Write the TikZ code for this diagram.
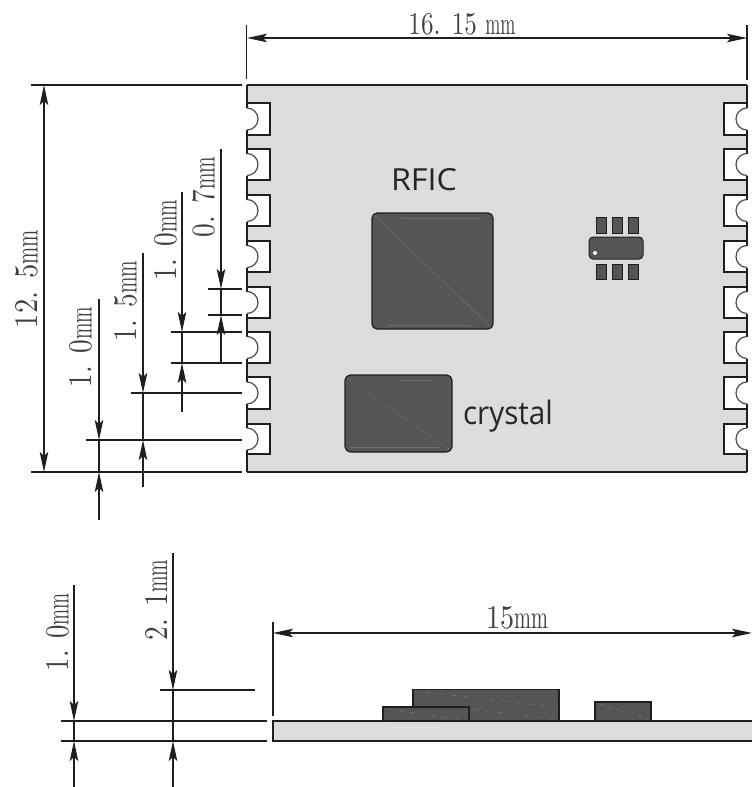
\documentclass[tikz,border=0pt]{standalone}
\usepackage{graphicx}
\usepackage{fontspec}
\newfontfamily\labelfont{Open Sans}
\usetikzlibrary{arrows.meta}
\definecolor{boardgrey}{HTML}{DCDCDC}
\definecolor{streak}{HTML}{E2E2E2}
\definecolor{chipgrey}{HTML}{555555}
\definecolor{chipline}{HTML}{6E6E6E}
\definecolor{inkline}{HTML}{1E1E1E}
\newcommand{\mmunit}{\scalebox{.72}[1]{mm}}
\newcommand{\sized}[3]{\resizebox{#1pt}{#2pt}{#3}}
\tikzset{
  dimline/.style={draw=inkline,line width=1.1pt},
  tip/.style={dimline,-{Stealth[length=20pt,width=8.5pt,inset=4pt]}},
  outline/.style={draw=inkline,line width=1.3pt},
  chip/.style={draw=inkline,line width=1.2pt,fill=chipgrey},
  vlabel/.style={rotate=90,inner sep=0pt,text=black!75},
  hlabel/.style={inner sep=0pt,text=black!75},
  boardlabel/.style={inner sep=0pt,font=\labelfont,text=black!85},
}
\begin{document}
\begin{tikzpicture}[x=1pt,y=-1pt]
\useasboundingbox (0,0) rectangle (752,787);
% ---- top view board
\fill[boardgrey] (247,85) rectangle (747,472);
\foreach \ya/\xa/\xb in {102/300/380,118/500/640,126/270/340,140/480/590,160/600/690,176/280/350,205/510/570,232/650/710,268/275/340,296/520/580,346/560/660,362/280/335,396/600/690,430/480/610,458/300/480}
  \draw[streak,line width=.8pt] (\xa,\ya) -- (\xb,\ya);
\draw[outline] (247,85) -- (747,85);
\draw[outline] (247,472) -- (747,472);
\draw[outline] (247,85) -- (247,472);
\draw[outline] (747,85) -- (747,472);
\foreach \t/\b in {103/135,149/180,195/226,241/272,287/318,332/363,377/409,424/454}{
  \pgfmathsetmacro{\m}{(\t+\b)/2}
  \fill[white] (245,\t) rectangle (270,\b);
  \fill[white] (724,\t) rectangle (749,\b);
  \draw[outline] (247,\m+11) -- (247,\b) -- (270,\b) -- (270,\t) -- (247,\t) -- (247,\m-11);
  \draw[draw=black!70,line width=1.2pt] (247,\m+11) arc[start angle=-90,end angle=90,radius=11pt];
  \draw[outline] (747,\m+11) -- (747,\b) -- (724,\b) -- (724,\t) -- (747,\t) -- (747,\m-11);
  \draw[draw=black!70,line width=1.2pt] (747,\m+11) arc[start angle=270,end angle=90,radius=11pt];
}
% chips
\draw[chip,rounded corners=5pt] (372,213) rectangle (493,329);
\draw[chipline,line width=.5pt] (374,215) -- (491,327);
\draw[chipline,line width=.8pt] (402,218) -- (480,218) (388,325) -- (470,325);
\draw[chip,rounded corners=6pt] (345,375) rectangle (452,452);
\draw[chipline,line width=.5pt,dash pattern=on 2pt off 1pt] (347,378) -- (450,450);
\draw[chipline,line width=.8pt] (400,380) -- (432,380) (350,447) -- (440,447);
\foreach \x in {596,612,628}{
  \draw[chip,line width=1pt] (\x,217) rectangle (\x+10.5,233);
  \draw[chip,line width=1pt] (\x,264) rectangle (\x+10.5,279);
}
\draw[chip,line width=1pt,rounded corners=4pt] (589,237) rectangle (643,259);
\fill[white] (595,253) circle[radius=2pt];
\node[boardlabel] (rfic) at (424,180) {\sized{66}{22}{RFIC}};
\node[boardlabel] (crystal) at (508,416) {\sized{90}{24.5}{crystal}};
% ---- top dimensions
\draw[dimline] (246.5,25) -- (246.5,79);
\draw[dimline] (747,25) -- (747,80);
\draw[tip] (473,38) -- (247,38);
\draw[tip] (473,38) -- (747,38);
\node[hlabel] (w1) at (462,24) {\sized{107}{21}{16. 15 \mmunit}};
% ---- left dimensions
\foreach \y/\xa in {85/31,472/31,440/86,393/131,363/171,332/171,315/208,289/208}
  \draw[dimline] (\xa,\y) -- (242,\y);
\draw[tip] (44,278) -- (44,85);
\draw[tip] (44,278) -- (44,472);
\draw[dimline] (99,440) -- (99,472);
\draw[tip] (99,299) -- (99,440);
\draw[tip] (99,520) -- (99,472);
\draw[dimline] (143,393) -- (143,440);
\draw[tip] (143,253) -- (143,393);
\draw[tip] (143,487) -- (143,440);
\draw[dimline] (182,332) -- (182,363);
\draw[tip] (182,192) -- (182,332);
\draw[tip] (182,412) -- (182,363);
\draw[dimline] (221,289) -- (221,315);
\draw[tip] (221,149) -- (221,289);
\draw[tip] (221,363) -- (221,315);
\node[vlabel] (d1) at (27,279) {\sized{98}{22}{12. 5\mmunit}};
\node[vlabel] (d2) at (81,347) {\sized{80}{22}{1. 0\mmunit}};
\node[vlabel] (d3) at (126,301) {\sized{80}{22}{1. 5\mmunit}};
\node[vlabel] (d4) at (166,240) {\sized{80}{22}{1. 0\mmunit}};
\node[vlabel] (d5) at (204,197) {\sized{80}{22}{0. 7\mmunit}};
% ---- side view
\fill[boardgrey] (273,721) rectangle (752,741);
\foreach \ya/\xa/\xb in {727/390/440,731/510/540,733/600/640,735/680/740}
  \draw[streak,line width=.8pt] (\xa,\ya) -- (\xb,\ya);
\draw[outline] (752,721) -- (273,721) -- (273,741) -- (752,741);
\draw[chip] (413,721) rectangle (559,689.5);
\draw[chipline,line width=.7pt,dash pattern=on 5pt off 8pt] (425,692) -- (555,707);
\draw[chipline,line width=.7pt,dash pattern=on 5pt off 8pt] (472,709) -- (555,719);
\draw[chip] (383,721) rectangle (469,707);
\draw[chipline,line width=.7pt,dash pattern=on 5pt off 6pt] (388,709) -- (462,720);
\draw[chip] (595,721) rectangle (651,702);
\draw[chipline,line width=.7pt,dash pattern=on 4pt off 4pt] (600,704) -- (648,719);
\draw[dimline] (273,622) -- (273,716);
\draw[tip] (510,633) -- (273,633);
\draw[tip] (510,633) -- (752,633);
\node[hlabel] (w2) at (517,618) {\sized{62}{22}{15\mmunit}};
\draw[dimline] (61,721) -- (267,721);
\draw[dimline] (61,741) -- (267,741);
\draw[dimline] (160,690) -- (255,690);
\draw[dimline] (74,721) -- (74,741);
\draw[tip] (74,585) -- (74,721);
\draw[tip] (74,787) -- (74,741);
\draw[dimline] (173,690) -- (173,741);
\draw[tip] (173,553) -- (173,690);
\draw[tip] (173,787) -- (173,741);
\node[vlabel] (h1) at (58,632) {\sized{78}{22}{1. 0\mmunit}};
\node[vlabel] (h2) at (156,600) {\sized{80}{22}{2. 1\mmunit}};
\end{tikzpicture}
\end{document}
